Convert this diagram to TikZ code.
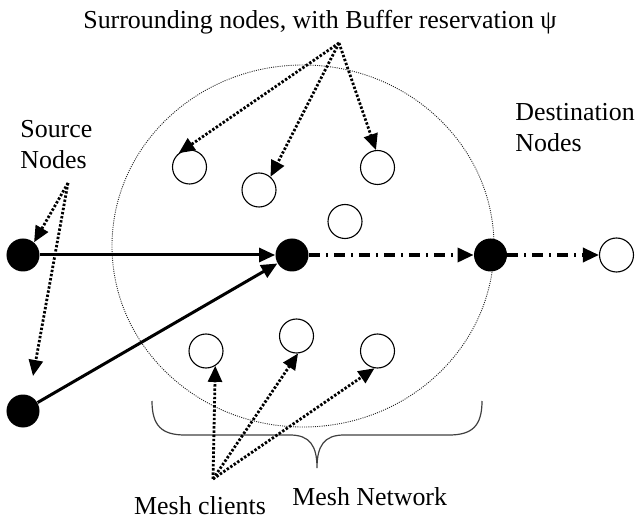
\documentclass[tikz,border=0pt]{standalone}
\usepackage{fontspec}
\setmainfont{Liberation Serif}
\usetikzlibrary{arrows.meta}
\tikzset{
  every node/.style={font=\fontsize{13}{15.5}\selectfont},
  fullnode/.style={circle, fill=black, inner sep=0pt, minimum size=16.5bp},
  opennode/.style={circle, draw=black, line width=0.55bp, inner sep=0pt, minimum width=16.5bp, minimum height=17bp},
  link/.style={line width=1.5bp, -{Triangle[length=8bp,width=7bp]}},
  flow/.style={line width=1.7bp, dash pattern=on 5.5bp off 3bp on 1bp off 3bp, -{Triangle[length=8bp,width=7bp]}},
  pointer/.style={line width=1.4bp, dash pattern=on 1.2bp off 0.9bp, -{Triangle[length=8bp,width=7bp]}},
  txt/.style={inner sep=0pt, align=left}
}

\begin{document}
\begin{tikzpicture}[x=0.5bp, y=-0.5bp]
\useasboundingbox (0,0) rectangle (639,519);
% mesh network area
\draw[line width=0.45bp, black!85, dash pattern=on 0.5bp off 0.6bp] (303,246) ellipse [x radius=95.5bp, y radius=90.5bp];
\draw[line width=0.6bp, black!75] (152,401) .. controls (152,426) and (162,435) .. (185,435) -- (290,435)
  .. controls (310,435) and (317,446) .. (317,468)
  .. controls (317,446) and (324,435) .. (344,435) -- (449,435)
  .. controls (472,435) and (482,426) .. (482,401);
%
\node[fullnode] (src1) at (23,255) {};
\node[fullnode] (src2) at (23,411) {};
\node[fullnode] (relay) at (292,255) {};
\node[fullnode] (dst) at (490.5,255) {};
\node[opennode] (dstout) at (616.5,255) {};
%
\node[opennode] (sn1) at (189.5,167) {};
\node[opennode] (sn2) at (259,190) {};
\node[opennode] (sn3) at (377.5,167.5) {};
\node[opennode] (sn4) at (345,221.5) {};
%
\node[opennode] (mc1) at (206,351) {};
\node[opennode] (mc2) at (296.5,336) {};
\node[opennode] (mc3) at (377.5,351) {};
%
\draw[link] (src1) -- (relay);
\draw[link] (src2) -- (relay);
\draw[flow] (relay) -- (dst);
\draw[flow] (dst) -- (dstout);
%
\node[txt, anchor=base] (surr) at (320,29) {Surrounding nodes, with Buffer reservation ψ};
\node[txt, anchor=north west] (srclbl) at (20,120) {Source\\Nodes};
\node[txt, anchor=north west] (dstlbl) at (515,103) {Destination\\Nodes};
\node[txt, anchor=base] (mclbl) at (200,514) {Mesh clients};
\node[txt, anchor=base west] (netlbl) at (292,505) {Mesh Network};
%
\coordinate (surrtip) at (339,43);
\coordinate (srctip) at (68,183);
\coordinate (srcend) at (33,376);
\coordinate (mctip) at (213,479);
%
\draw[pointer] (surrtip) -- (sn1.128);
\draw[pointer] (surrtip) -- (sn2.49);
\draw[pointer] (surrtip) -- (sn3.95);
\draw[pointer] (srctip) -- (src1.49);
\draw[pointer] (srctip) -- (srcend);
\draw[pointer] (mctip) -- (mc1.-58);
\draw[pointer] (mctip) -- (mc2.-85);
\draw[pointer] (mctip) -- (mc3.-100);
\end{tikzpicture}
\end{document}
